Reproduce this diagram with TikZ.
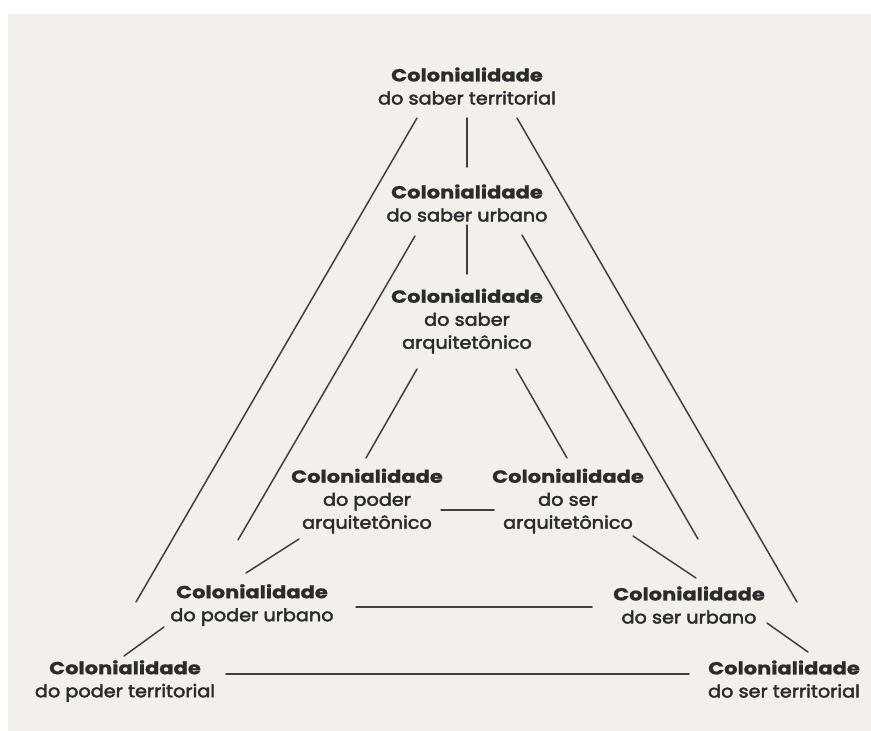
\documentclass[tikz,border=0pt]{standalone}
\usepackage{fontspec}
\setmainfont{Poppins}[UprightFeatures={FakeStretch=1.1}, BoldFeatures={FakeBold=1, FakeStretch=1.2}]
\definecolor{paper}{HTML}{F3EFEB}
\definecolor{ink}{HTML}{2B2B2B}
\tikzset{
  lbl/.style={align=center, text=ink, inner sep=0pt,
    font=\fontsize{17.5}{23}\selectfont\addfontfeature{FakeBold=2.5}},
  link/.style={draw=ink!90, line width=1.5pt}
}

\begin{document}
\begin{tikzpicture}[x=1pt, y=-1pt, line join = round, line cap = round]
\useasboundingbox (0,0) rectangle (871,731);
\fill[paper] (8,14) rectangle (871,731);

\node[lbl] (ST) at (467,86)  {\textbf{Colonialidade}\\do saber territorial};
\node[lbl] (SU) at (467,203) {\textbf{Colonialidade}\\do saber urbano};
\node[lbl] (SA) at (467,321) {\textbf{Colonialidade}\\do saber\\arquitetônico};
\node[lbl] (PA) at (367,501) {\textbf{Colonialidade}\\do poder\\arquitetônico};
\node[lbl] (RA) at (568,501) {\textbf{Colonialidade}\\do ser\\arquitetônico};
\node[lbl] (PU) at (252,605) {\textbf{Colonialidade}\\do poder urbano};
\node[lbl] (RU) at (689,605) {\textbf{Colonialidade}\\do ser urbano};
\node[lbl] (PT) at (125,681) {\textbf{Colonialidade}\\do poder territorial};
\node[lbl] (RT) at (784,679) {\textbf{Colonialidade}\\do ser territorial};

\coordinate (a1) at (417,118); \coordinate (a2) at (136,602);
\coordinate (b1) at (517,118); \coordinate (b2) at (797,602);
\coordinate (c1) at (467,118); \coordinate (c2) at (467,167);
\coordinate (d1) at (467,225); \coordinate (d2) at (467,274);
\coordinate (e1) at (415,236); \coordinate (e2) at (238,540);
\coordinate (f1) at (522,235); \coordinate (f2) at (698,539);
\coordinate (g1) at (417,369); \coordinate (g2) at (366,458);
\coordinate (h1) at (516,369); \coordinate (h2) at (567,458);
\coordinate (i1) at (441,510); \coordinate (i2) at (494,510);
\coordinate (j1) at (299,539); \coordinate (j2) at (246,573);
\coordinate (k1) at (633,536); \coordinate (k2) at (696,578);
\coordinate (l1) at (356,607); \coordinate (l2) at (592,607);
\coordinate (m1) at (164,627); \coordinate (m2) at (124,656);
\coordinate (n1) at (767,623); \coordinate (n2) at (808,652);
\coordinate (o1) at (226,674); \coordinate (o2) at (689,674);

\foreach \i in {a,b,c,d,e,f,g,h,i,j,k,l,m,n,o}
    \draw[link] (\i1)--(\i2);
\end{tikzpicture}
\end{document}
